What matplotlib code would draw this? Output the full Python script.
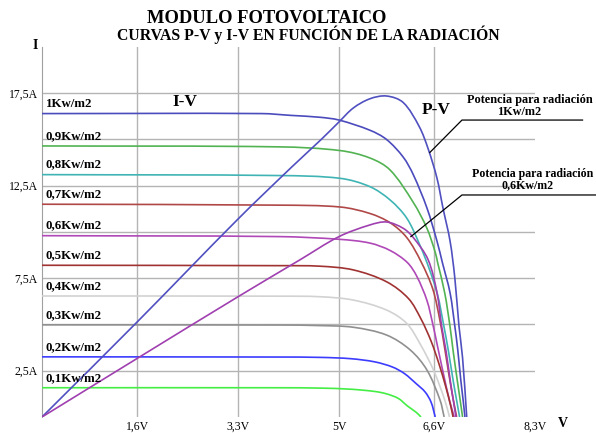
import matplotlib
matplotlib.use("Agg")
from matplotlib import pyplot as plt
from matplotlib.path import Path
from matplotlib.patches import PathPatch
import numpy as np

# --- data ---
radiation_labels = ["1Kw/m2", "0,9Kw/m2", "0,8Kw/m2", "0,7Kw/m2", "0,6Kw/m2",
                    "0,5Kw/m2", "0,4Kw/m2", "0,3Kw/m2", "0,2Kw/m2", "0,1Kw/m2"]
curve_colors = ["#4b4bbd", "#52b352", "#40b4b4", "#b04848", "#b048b8",
                "#a03232", "#d2d2d2", "#909090", "#3c3cff", "#44ee44"]

# I-V curves (volts, amperes), one pair per radiation level
iv_volts = [
    [0, 3.7, 4.2, 4.68, 5.0, 5.52, 5.8, 6.08, 6.25, 6.48, 6.65, 6.74, 6.87, 6.95, 7.0, 7.05, 7.09, 7.12],
    [0, 4.0, 5.02, 5.52, 5.86, 6.25, 6.48, 6.62, 6.66, 6.78, 6.87, 6.92, 6.99, 7.04, 7.08],
    [0, 4.0, 5.02, 5.52, 5.86, 6.14, 6.36, 6.52, 6.66, 6.76, 6.84, 6.92, 6.98, 7.03],
    [0, 4.0, 5.02, 5.52, 5.86, 6.14, 6.38, 6.58, 6.7, 6.77, 6.85, 6.92, 6.98],
    [0, 4.0, 5.02, 5.52, 5.86, 6.15, 6.31, 6.48, 6.58, 6.66, 6.76, 6.86, 6.94],
    [0, 4.0, 4.68, 5.24, 5.8, 6.17, 6.38, 6.55, 6.68, 6.8, 6.88, 6.92],
    [0, 4.0, 4.68, 5.24, 5.8, 6.14, 6.36, 6.59, 6.78, 6.86],
    [0, 4.0, 4.68, 5.24, 5.8, 6.2, 6.48, 6.7, 6.77],
    [0, 4.0, 4.7, 5.2, 5.6, 5.9, 6.1, 6.3, 6.45, 6.55, 6.62],
    [0, 4.0, 4.7, 5.2, 5.6, 5.8, 6.0, 6.15, 6.3, 6.38],
]
iv_amps = [
    [16.4, 16.4, 16.3, 16.2, 16.05, 15.5, 15.0, 14.05, 13.1, 11.3, 9.5, 8.35, 6.7, 4.9, 3.6, 2.0, 0.9, 0],
    [14.65, 14.6, 14.4, 14.0, 13.35, 11.6, 10.2, 8.9, 8.35, 6.7, 4.86, 3.6, 2.0, 0.9, 0],
    [13.1, 13.05, 12.9, 12.45, 11.73, 10.75, 9.3, 8.0, 6.6, 5.0, 3.6, 2.0, 0.9, 0],
    [11.5, 11.45, 11.35, 11.0, 10.5, 9.7, 8.4, 6.9, 5.2, 3.9, 2.3, 1.0, 0],
    [9.8, 9.75, 9.6, 9.4, 9.0, 8.35, 7.6, 6.3, 5.0, 3.8, 2.3, 0.9, 0],
    [8.2, 8.18, 8.15, 7.95, 7.31, 6.4, 5.3, 4.1, 2.9, 1.6, 0.6, 0],
    [6.54, 6.53, 6.5, 6.32, 5.78, 5.06, 3.98, 2.54, 0.92, 0],
    [4.98, 4.97, 4.94, 4.85, 4.43, 3.62, 2.54, 0.92, 0],
    [3.25, 3.24, 3.22, 3.15, 2.98, 2.7, 2.35, 1.8, 1.35, 0.8, 0],
    [1.58, 1.58, 1.56, 1.5, 1.38, 1.25, 1.0, 0.6, 0.25, 0],
]

# P-V curves, drawn on the same scale as the current
pv_volts_1kw = [0, 1.6, 3.3, 4.2, 4.7, 5.0, 5.24, 5.52, 5.8, 6.08, 6.35, 6.5, 6.65, 6.75, 6.87, 6.95, 7.02, 7.08, 7.15]
pv_vals_1kw = [0, 5.13, 10.7, 13.5, 15.0, 15.95, 16.7, 17.2, 17.35, 17.0, 15.7, 14.5, 12.9, 11.3, 9.5, 7.5, 4.9, 3.2, 0]
pv_volts_06 = [0, 1.65, 3.3, 4.34, 5.0, 5.52, 5.8, 6.08, 6.25, 6.5, 6.65, 6.73, 6.8, 6.88, 6.97]
pv_vals_06 = [0, 3.26, 6.5, 8.49, 9.75, 10.38, 10.54, 10.2, 9.7, 8.5, 6.7, 4.86, 3.6, 1.8, 0]

x_ticks = [1.6, 3.3, 5, 6.6, 8.3]
x_tick_labels = ["1,6V", "3,3V", "5V", "6,6V", "8,3V"]
y_ticks = [2.5, 5, 7.5, 10, 12.5, 15, 17.5]
y_tick_labels = ["2,5A", "", "7,5A", "", "12,5A", "", "17,5A"]


def smooth_path(xs, ys, sx=59.4, sy=18.5):
    # cubic bezier through the read points (chord-length Catmull-Rom)
    pts = np.column_stack([xs, ys]).astype(float)
    d = np.hypot(np.diff(pts[:, 0]) * sx, np.diff(pts[:, 1]) * sy)
    t = np.concatenate([[0], np.cumsum(d)])
    n = len(pts)
    tang = np.zeros_like(pts)
    tang[0] = (pts[1] - pts[0]) / (t[1] - t[0])
    tang[-1] = (pts[-1] - pts[-2]) / (t[-1] - t[-2])
    for k in range(1, n - 1):
        tang[k] = (pts[k + 1] - pts[k - 1]) / (t[k + 1] - t[k - 1])
    verts = [pts[0]]
    codes = [Path.MOVETO]
    for k in range(n - 1):
        h = t[k + 1] - t[k]
        verts += [pts[k] + tang[k] * h / 3, pts[k + 1] - tang[k + 1] * h / 3, pts[k + 1]]
        codes += [Path.CURVE4] * 3
    return Path(verts, codes)


plt.rcParams['font.family'] = ['Liberation Serif', 'DejaVu Serif']

fig = plt.figure(figsize=(5.96, 4.33), dpi=100)
ax = fig.add_axes([0.0705, 0.037, 0.8272, 0.8545])
ax.set_xlim(0, 8.3)
ax.set_ylim(0, 20)

grid_color = "#b4b4b4"
for y in y_ticks:
    ax.axhline(y, color=grid_color, lw=1.0, zorder=1)
for x in x_ticks[:-1]:
    ax.axvline(x, color=grid_color, lw=1.0, zorder=1)

for v, i, c in zip(iv_volts, iv_amps, curve_colors):
    ax.add_patch(PathPatch(smooth_path(v, i), fill=False, edgecolor=c, lw=1.2, zorder=3))
ax.add_patch(PathPatch(smooth_path(pv_volts_1kw, pv_vals_1kw), fill=False,
                       edgecolor="#5050c0", lw=1.2, zorder=3))
ax.add_patch(PathPatch(smooth_path(pv_volts_06, pv_vals_06), fill=False,
                       edgecolor="#a040b0", lw=1.2, zorder=3))

for lab, i in zip(radiation_labels, iv_amps):
    ax.text(0.06, i[0] + 0.22, lab, fontsize=9.3, fontweight='bold',
            va='bottom', ha='left', zorder=4)

ax.text(2.4, 17.05, "I-V", fontsize=12.5, fontweight='bold', ha='center', va='center')
ax.text(6.64, 16.6, "P-V", fontsize=12.5, fontweight='bold', ha='center', va='center')

# callouts
ax.plot([6.53, 7.07, 9.1], [14.3, 16.05, 16.05], color="black", lw=0.9, clip_on=False, zorder=5)
ax.text(8.22, 17.15, "Potencia para radiación", fontsize=8.8, fontweight='bold',
        ha='center', va='center', clip_on=False)
ax.text(8.03, 16.5, "1Kw/m2", fontsize=8.8, fontweight='bold',
        ha='center', va='center', clip_on=False)
ax.plot([6.21, 7.07, 9.6], [9.75, 12.0, 12.0], color="black", lw=0.9, clip_on=False, zorder=5)
ax.text(8.26, 13.15, "Potencia para radiación", fontsize=8.6, fontweight='bold',
        ha='center', va='center', clip_on=False)
ax.text(8.18, 12.55, "0,6Kw/m2", fontsize=8.6, fontweight='bold',
        ha='center', va='center', clip_on=False)

ax.set_xticks(x_ticks)
ax.set_xticklabels(x_tick_labels, fontsize=8.5)
ax.set_yticks(y_ticks)
ax.set_yticklabels(y_tick_labels, fontsize=8.5)
ax.tick_params(length=0, pad=3)

for side in ["top", "right", "bottom"]:
    ax.spines[side].set_visible(False)
ax.spines["left"].set_color("#a0a0a0")

fig.text(0.059, 0.895, "I", fontsize=10, fontweight='bold', ha='center', va='center')
fig.text(0.945, 0.021, "V", fontsize=10, fontweight='bold', ha='center', va='center')
fig.text(0.448, 0.958, "MODULO FOTOVOLTAICO", fontsize=13.3, fontweight='bold',
         ha='center', va='center')
fig.text(0.517, 0.919, "CURVAS P-V y I-V EN FUNCIÓN DE LA RADIACIÓN", fontsize=11.3,
         fontweight='bold', ha='center', va='center')

fig.savefig("out.png", dpi=100)
